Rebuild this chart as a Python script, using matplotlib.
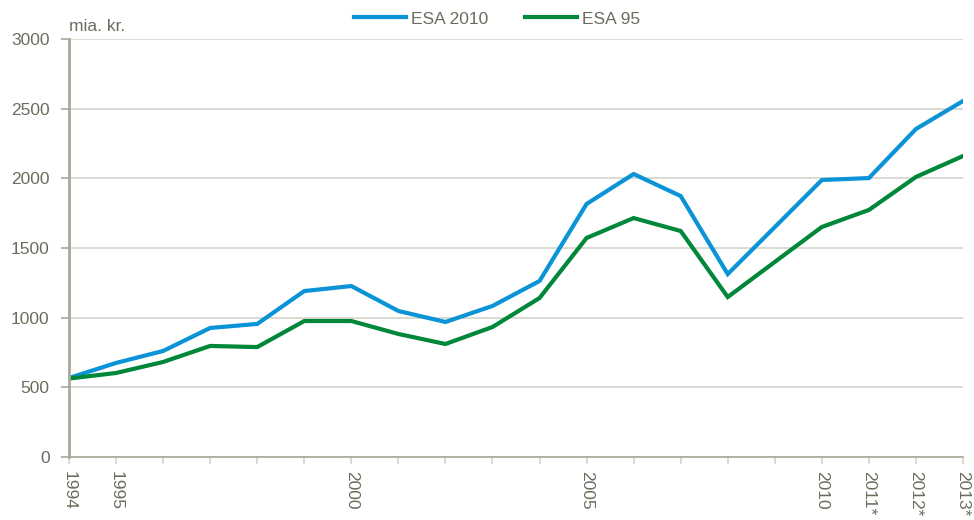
import matplotlib
matplotlib.use("Agg")
import matplotlib.pyplot as plt
from matplotlib import font_manager

years = list(range(1994, 2014))
tick_labels = {1994: "1994", 1995: "1995", 2000: "2000", 2005: "2005",
               2010: "2010", 2011: "2011*", 2012: "2012*", 2013: "2013*"}
esa2010 = [567, 675, 761, 926, 955, 1191, 1227, 1048, 969, 1084, 1263,
           1816, 2031, 1873, 1313, 1650, 1988, 2002, 2354, 2555]
esa95 = [563, 603, 682, 797, 789, 976, 976, 883, 811, 933, 1141,
         1572, 1715, 1622, 1148, 1400, 1651, 1773, 2010, 2160]

names = {f.name for f in font_manager.fontManager.ttflist}
fam = ["Liberation Sans Narrow"] if "Liberation Sans Narrow" in names else ["Liberation Sans"]
plt.rcParams["font.family"] = fam + ["DejaVu Sans"]

txt = "#6b6b5e"
grid = "#d4d4cc"
spine = "#a8a899"
blue = "#0a93d6"
green = "#00873a"
fs = 12.5

fig = plt.figure(figsize=(9.74, 5.20), dpi=100)
ax = fig.add_axes([69/974, 1-457/520, (963-69)/974, (457-39)/520])

ax.plot(years, esa2010, color=blue, lw=3.0, label="ESA 2010", solid_joinstyle="miter")
ax.plot(years, esa95, color=green, lw=3.0, label="ESA 95", solid_joinstyle="miter")

ax.set_xlim(1994, 2013)
ax.set_ylim(0, 3000)
ax.set_yticks(range(0, 3001, 500))
ax.yaxis.grid(True, color=grid, lw=1.2)
ax.set_axisbelow(True)
ax.set_xticks(years)
ax.set_xticklabels([tick_labels.get(y, "") for y in years], rotation=-90)

for s in ["top", "right"]:
    ax.spines[s].set_visible(False)
ax.spines["left"].set_color(spine)
ax.spines["left"].set_linewidth(2)
ax.spines["bottom"].set_color(spine)
ax.spines["bottom"].set_linewidth(1.2)
ax.tick_params(axis="y", colors=spine, labelcolor=txt, labelsize=fs, length=6, width=1.2, pad=8)
ax.tick_params(axis="x", colors=grid, labelcolor=txt, labelsize=fs, length=5, width=1.2, pad=5)

ax.text(0, 1.012, "mia. kr.", transform=ax.transAxes, ha="left", va="bottom",
        color=txt, fontsize=fs)

leg = fig.legend(loc="center", bbox_to_anchor=(497/974, 1-19/520), ncol=2, frameon=False,
                 fontsize=fs, handlelength=3.0, columnspacing=2.1, handletextpad=0.3)
for t in leg.get_texts():
    t.set_color(txt)

fig.savefig("out.png", dpi=100)
